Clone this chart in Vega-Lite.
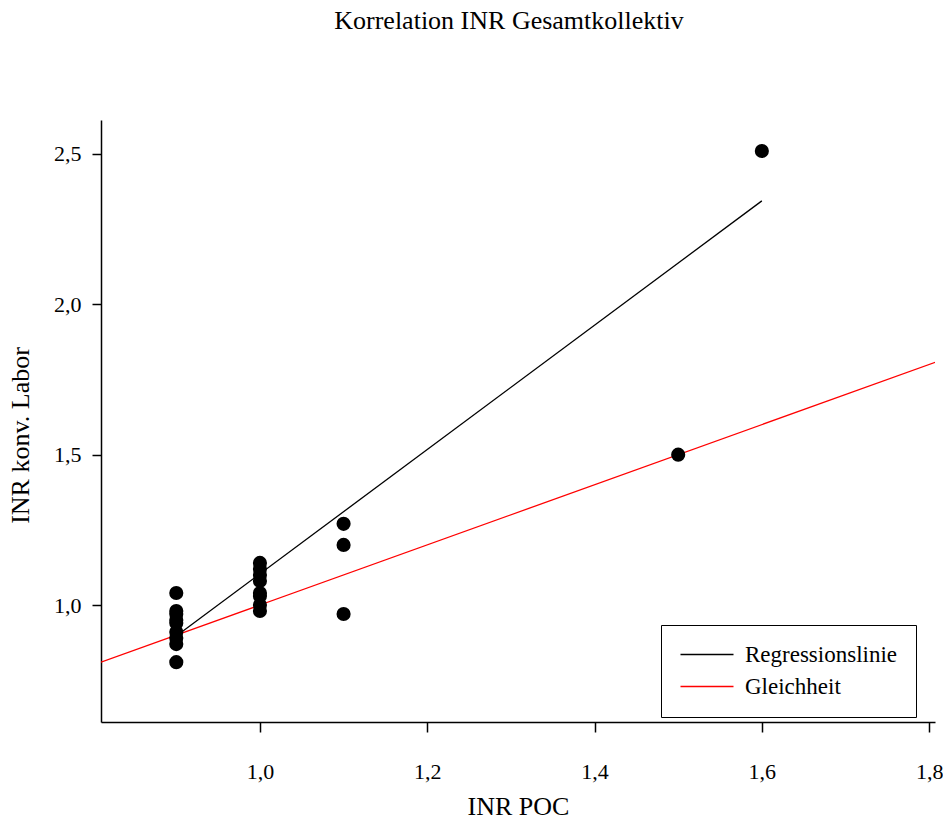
{
  "$schema": "https://vega.github.io/schema/vega-lite/v6.json",
  "width": 834,
  "height": 602,
  "autosize": "none",
  "padding": {"left": 101, "top": 120, "right": 8, "bottom": 98},
  "background": "white",
  "title": {"text": "Korrelation INR Gesamtkollektiv", "font": "Liberation Serif", "fontSize": 26, "fontWeight": "normal", "color": "black", "offset": 86, "anchor": "middle", "dx": -9},
  "config": {
    "view": {"stroke": null},
    "axis": {"grid": false, "domainColor": "black", "tickColor": "black", "labelColor": "black", "titleColor": "black", "labelFont": "Liberation Serif", "titleFont": "Liberation Serif", "labelFontSize": 22, "titleFontSize": 26, "titleFontWeight": "normal", "domainWidth": 1.5, "tickWidth": 1.5}
  },
  "datasets": {
    "points": [
      {"x": 0.9, "y": 1.04}, {"x": 0.9, "y": 0.98}, {"x": 0.9, "y": 0.97}, {"x": 0.9, "y": 0.95}, {"x": 0.9, "y": 0.94}, {"x": 0.9, "y": 0.91}, {"x": 0.9, "y": 0.89}, {"x": 0.9, "y": 0.87}, {"x": 0.9, "y": 0.81},
      {"x": 1.0, "y": 1.14}, {"x": 1.0, "y": 1.12}, {"x": 1.0, "y": 1.10}, {"x": 1.0, "y": 1.08}, {"x": 1.0, "y": 1.04}, {"x": 1.0, "y": 1.03}, {"x": 1.0, "y": 1.00}, {"x": 1.0, "y": 0.98},
      {"x": 1.1, "y": 1.27}, {"x": 1.1, "y": 1.20}, {"x": 1.1, "y": 0.97},
      {"x": 1.5, "y": 1.50},
      {"x": 1.6, "y": 2.51}
    ],
    "lines": [
      {"series": "Regressionslinie", "x": 0.9, "y": 0.897},
      {"series": "Regressionslinie", "x": 1.6, "y": 2.344},
      {"series": "Gleichheit", "x": 0.81, "y": 0.81},
      {"series": "Gleichheit", "x": 1.81, "y": 1.81}
    ]
  },
  "layer": [
    {
      "data": {"name": "lines"},
      "mark": {"type": "line", "strokeWidth": 1.3, "clip": true},
      "encoding": {
        "x": {"field": "x", "type": "quantitative", "scale": {"domain": [0.81, 1.807], "nice": false, "zero": false},
              "axis": {"title": "INR POC", "values": [1.0, 1.2, 1.4, 1.6, 1.8], "labelExpr": "replace(format(datum.value, '.1f'), '.', ',')", "tickSize": 10, "labelPadding": 29, "titlePadding": 11}},
        "y": {"field": "y", "type": "quantitative", "scale": {"domain": [0.611, 2.613], "nice": false, "zero": false},
              "axis": {"title": "INR konv. Labor", "values": [1.0, 1.5, 2.0, 2.5], "labelExpr": "replace(format(datum.value, '.1f'), '.', ',')", "tickSize": 9, "labelPadding": 11, "titleX": -68, "titleY": 315}},
        "color": {"field": "series", "type": "nominal", "scale": {"domain": ["Regressionslinie", "Gleichheit"], "range": ["black", "red"]},
                  "legend": {"title": null, "orient": "none", "legendX": 560, "legendY": 505, "symbolType": "M-1,0H4.3", "symbolSize": 400, "symbolStrokeWidth": 1.3, "labelFont": "Liberation Serif", "labelFontSize": 23, "labelColor": "black", "strokeColor": "black", "fillColor": "white", "padding": 18, "labelOffset": 43, "rowPadding": 8}},
        "detail": {"field": "series"}
      }
    },
    {
      "data": {"name": "points"},
      "mark": {"type": "circle", "size": 200, "color": "black", "opacity": 1},
      "encoding": {
        "x": {"field": "x", "type": "quantitative"},
        "y": {"field": "y", "type": "quantitative"}
      }
    }
  ]
}
